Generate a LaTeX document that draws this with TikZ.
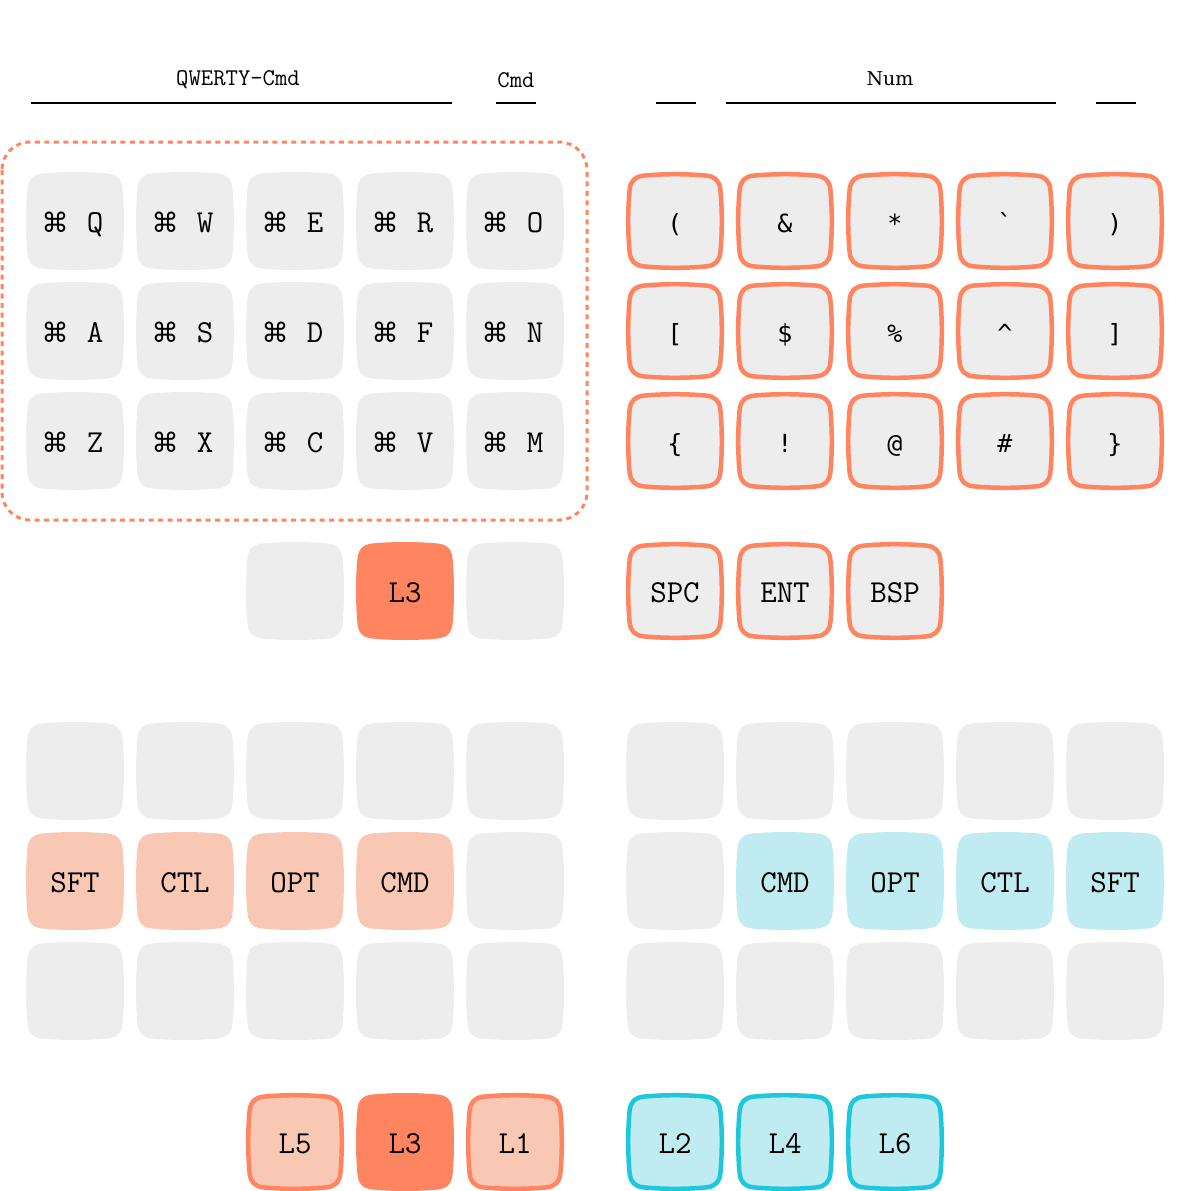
\documentclass[tikz,border=0pt]{standalone}
\usepackage{fontspec}
\newfontfamily\symfont{DejaVu Sans Mono}
\newfontfamily\cmdfont{DejaVu Sans}
\newfontfamily\numfont{DejaVu Serif}
\definecolor{keygray}{HTML}{EDEDED}
\definecolor{coral}{HTML}{FF8460}
\definecolor{salmon}{HTML}{F9C8B4}
\definecolor{cyanlight}{HTML}{C0EBF1}
\definecolor{cyanborder}{HTML}{1EC8DC}
\tikzset{
  keylabel/.style={inner sep=0pt, text height=23pt, text depth=0pt, font=\ttfamily\fontsize{32}{32}\selectfont},
  toplabel/.style={inner sep=0pt, font=\ttfamily\fontsize{24}{24}\selectfont},
  headline/.style={line width=2pt, black},
  gk/.style={fill=keygray},
  bk/.style={fill=keygray, draw=coral, line width=4.5pt, scale=0.955},
  ck/.style={fill=coral},
  sk/.style={fill=salmon},
  sbk/.style={fill=salmon, draw=coral, line width=4.5pt, scale=0.955},
  qk/.style={fill=cyanlight},
  qbk/.style={fill=cyanlight, draw=cyanborder, line width=4.5pt, scale=0.955},
  layerbox/.style={draw=coral, line width=3pt, dash pattern=on 5pt off 4.5pt, rounded corners=28pt}
}
\newcommand\kbkey[5]{%
  \path[shift={(#1,#2)},#3] (-33,-47.5) .. controls (-12,-49.5) and (12,-49.5) .. (33,-47.5)
    .. controls (42,-46.5) and (46.5,-42) .. (47.5,-33)
    .. controls (49.5,-12) and (49.5,12) .. (47.5,33)
    .. controls (46.5,42) and (42,46.5) .. (33,47.5)
    .. controls (12,49.5) and (-12,49.5) .. (-33,47.5)
    .. controls (-42,46.5) and (-46.5,42) .. (-47.5,33)
    .. controls (-49.5,12) and (-49.5,-12) .. (-47.5,-33)
    .. controls (-46.5,-42) and (-42,-46.5) .. (-33,-47.5) -- cycle;
  \node[keylabel] (#4) at (#1,#2) {#5};}
\newcommand\cmdk[1]{\makebox[19pt]{\cmdfont\fontsize{27}{27}\selectfont ⌘}\hspace{21pt}\makebox[19pt]{#1}}
\newcommand\symk[1]{{\symfont\fontsize{25}{25}\selectfont #1}}
\begin{document}
\begin{tikzpicture}[x=1pt,y=-1pt]
\useasboundingbox (0,0) rectangle (1189,1191);
% header
\node[toplabel] (hq) at (238,80) {QWERTY-Cmd};
\node[toplabel] (hc) at (516,80) {Cmd};
\node[inner sep=0pt, font=\numfont\fontsize{19}{19}\selectfont] (hn) at (890,79) {Num};
\coordinate (q1) at (31,103); \coordinate (q2) at (452,103);
\coordinate (c1) at (496,103); \coordinate (c2) at (536,103);
\coordinate (e1) at (656,103); \coordinate (e2) at (696,103);
\coordinate (n1) at (726,103); \coordinate (n2) at (1056,103);
\coordinate (f1) at (1096,103); \coordinate (f2) at (1136,103);
\draw[headline] (q1) -- (q2);
\draw[headline] (c1) -- (c2);
\draw[headline] (e1) -- (e2);
\draw[headline] (n1) -- (n2);
\draw[headline] (f1) -- (f2);
% dashed layer box
\draw[layerbox] (2,142) rectangle (587,520);
% left top block
\kbkey{75}{221}{gk}{kq}{\cmdk{Q}}
\kbkey{185}{221}{gk}{kw}{\cmdk{W}}
\kbkey{295}{221}{gk}{ke}{\cmdk{E}}
\kbkey{405}{221}{gk}{kr}{\cmdk{R}}
\kbkey{515}{221}{gk}{ko}{\cmdk{O}}
\kbkey{75}{331}{gk}{ka}{\cmdk{A}}
\kbkey{185}{331}{gk}{ks}{\cmdk{S}}
\kbkey{295}{331}{gk}{kd}{\cmdk{D}}
\kbkey{405}{331}{gk}{kf}{\cmdk{F}}
\kbkey{515}{331}{gk}{kn}{\cmdk{N}}
\kbkey{75}{441}{gk}{kz}{\cmdk{Z}}
\kbkey{185}{441}{gk}{kx}{\cmdk{X}}
\kbkey{295}{441}{gk}{kc}{\cmdk{C}}
\kbkey{405}{441}{gk}{kv}{\cmdk{V}}
\kbkey{515}{441}{gk}{km}{\cmdk{M}}
% right top block
\kbkey{675}{221}{bk}{s11}{\symk{(}}
\kbkey{785}{221}{bk}{s12}{\symk{\&}}
\kbkey{895}{221}{bk}{s13}{\symk{*}}
\kbkey{1005}{221}{bk}{s14}{\symk{\textasciigrave}}
\kbkey{1115}{221}{bk}{s15}{\symk{)}}
\kbkey{675}{331}{bk}{s21}{\symk{[}}
\kbkey{785}{331}{bk}{s22}{\symk{\$}}
\kbkey{895}{331}{bk}{s23}{\symk{\%}}
\kbkey{1005}{331}{bk}{s24}{\symk{\textasciicircum}}
\kbkey{1115}{331}{bk}{s25}{\symk{]}}
\kbkey{675}{441}{bk}{s31}{\symk{\{}}
\kbkey{785}{441}{bk}{s32}{\symk{!}}
\kbkey{895}{441}{bk}{s33}{\symk{@}}
\kbkey{1005}{441}{bk}{s34}{\symk{\#}}
\kbkey{1115}{441}{bk}{s35}{\symk{\}}}
% upper thumbs
\kbkey{295}{591}{gk}{t1}{}
\kbkey{405}{591}{ck}{t2}{L3}
\kbkey{515}{591}{gk}{t3}{}
\kbkey{675}{591}{bk}{t4}{SPC}
\kbkey{785}{591}{bk}{t5}{ENT}
\kbkey{895}{591}{bk}{t6}{BSP}
% lower left block
\kbkey{75}{771}{gk}{a11}{}
\kbkey{185}{771}{gk}{a12}{}
\kbkey{295}{771}{gk}{a13}{}
\kbkey{405}{771}{gk}{a14}{}
\kbkey{515}{771}{gk}{a15}{}
\kbkey{75}{881}{sk}{a21}{SFT}
\kbkey{185}{881}{sk}{a22}{CTL}
\kbkey{295}{881}{sk}{a23}{OPT}
\kbkey{405}{881}{sk}{a24}{CMD}
\kbkey{515}{881}{gk}{a25}{}
\kbkey{75}{991}{gk}{a31}{}
\kbkey{185}{991}{gk}{a32}{}
\kbkey{295}{991}{gk}{a33}{}
\kbkey{405}{991}{gk}{a34}{}
\kbkey{515}{991}{gk}{a35}{}
% lower right block
\kbkey{675}{771}{gk}{b11}{}
\kbkey{785}{771}{gk}{b12}{}
\kbkey{895}{771}{gk}{b13}{}
\kbkey{1005}{771}{gk}{b14}{}
\kbkey{1115}{771}{gk}{b15}{}
\kbkey{675}{881}{gk}{b21}{}
\kbkey{785}{881}{qk}{b22}{CMD}
\kbkey{895}{881}{qk}{b23}{OPT}
\kbkey{1005}{881}{qk}{b24}{CTL}
\kbkey{1115}{881}{qk}{b25}{SFT}
\kbkey{675}{991}{gk}{b31}{}
\kbkey{785}{991}{gk}{b32}{}
\kbkey{895}{991}{gk}{b33}{}
\kbkey{1005}{991}{gk}{b34}{}
\kbkey{1115}{991}{gk}{b35}{}
% lower thumbs
\kbkey{295}{1142}{sbk}{u1}{L5}
\kbkey{405}{1142}{ck}{u2}{L3}
\kbkey{515}{1142}{sbk}{u3}{L1}
\kbkey{675}{1142}{qbk}{u4}{L2}
\kbkey{785}{1142}{qbk}{u5}{L4}
\kbkey{895}{1142}{qbk}{u6}{L6}
\end{tikzpicture}
\end{document}
